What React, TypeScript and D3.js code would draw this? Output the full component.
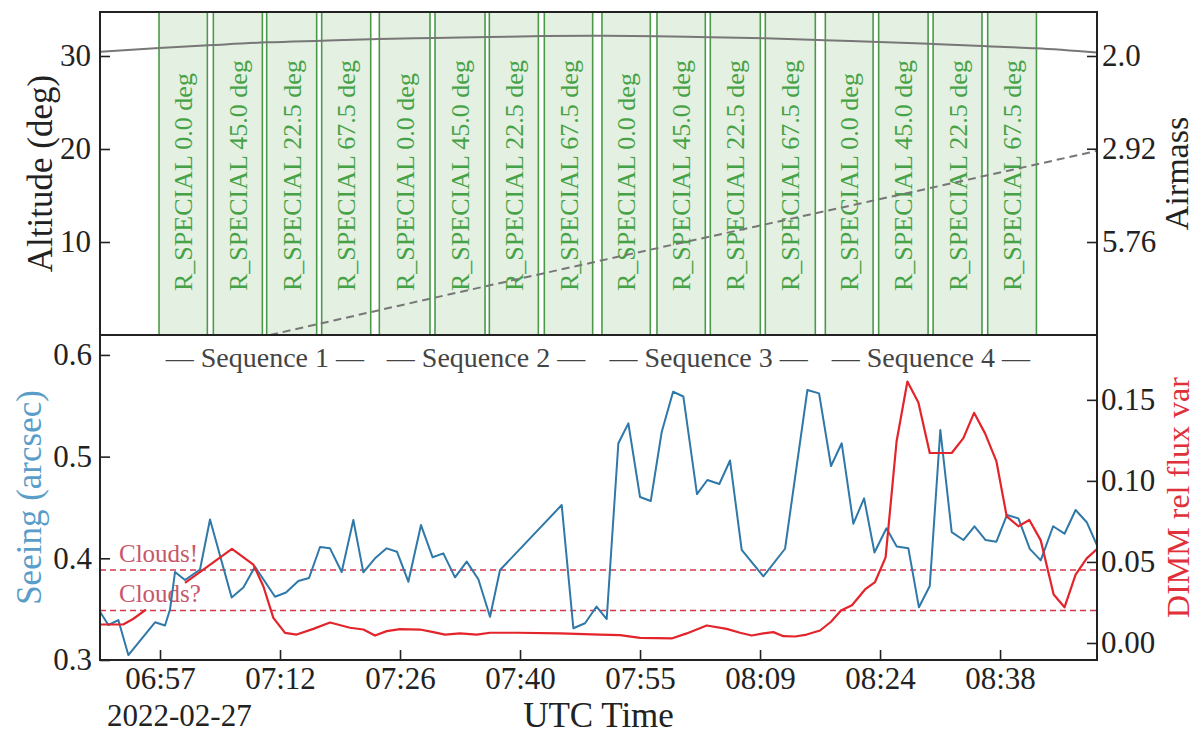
import { useEffect, useRef } from "react";
import * as d3 from "d3";

const DAY = "2022-02-27";
const xStart = "06:50:24";
const xEnd = "08:50:02";

// UTC tick positions (labels are truncated to HH:MM)
const tickTimes = ["06:57:36", "07:12:00", "07:26:24", "07:40:48", "07:55:12", "08:09:36", "08:24:00", "08:38:24"];

// observation blocks
const blockStart = ["06:57:29", "07:04:00", "07:10:24", "07:17:00", "07:23:55", "07:30:36", "07:37:07", "07:43:43",
  "07:50:38", "07:57:14", "08:03:38", "08:10:14", "08:17:26", "08:23:50", "08:30:22", "08:36:55"];
const blockEnd = ["07:03:17", "07:09:53", "07:16:24", "07:22:53", "07:30:00", "07:36:36", "07:43:00", "07:49:31",
  "07:56:26", "08:03:02", "08:09:38", "08:16:14", "08:23:10", "08:29:46", "08:36:14", "08:42:46"];
const blockAngle = ["0.0", "45.0", "22.5", "67.5", "0.0", "45.0", "22.5", "67.5",
  "0.0", "45.0", "22.5", "67.5", "0.0", "45.0", "22.5", "67.5"];
const sequences = ["Sequence 1", "Sequence 2", "Sequence 3", "Sequence 4"];

// target altitude (deg)
const altTime = ["06:50:24", "06:57:29", "07:03:58", "07:10:26", "07:17:02", "07:23:53", "07:30:36", "07:37:05", "07:43:41",
  "07:49:34", "07:57:14", "08:03:36", "08:10:12", "08:17:24", "08:23:53", "08:30:22", "08:36:58", "08:42:43", "08:50:02"];
const altValue = [30.46, 30.86, 31.18, 31.47, 31.65, 31.83, 31.94, 32.04, 32.15,
  32.18, 32.12, 32.01, 31.9, 31.69, 31.51, 31.29, 31.04, 30.83, 30.38];

// second (dashed) altitude track
const dashTime = ["07:10:48", "07:30:00", "07:50:00", "08:10:00", "08:30:00", "08:50:02"];
const dashValue = [0.0, 3.9, 7.9, 11.85, 15.8, 19.8];

const airmassTicks = [2.0, 2.92, 5.76];
const airmassLabels = ["2.0", "2.92", "5.76"];

// DIMM seeing (arcsec)
const seeingTime = ["06:50:24", "06:51:24", "06:52:36", "06:53:48", "06:57:00", "06:58:12", "06:58:48", "06:59:24", "07:00:36",
  "07:02:24", "07:03:36", "07:06:12", "07:07:36", "07:09:00", "07:11:24", "07:12:43", "07:14:12", "07:15:29", "07:16:48",
  "07:18:00", "07:19:24", "07:20:48", "07:22:00", "07:23:24", "07:24:48", "07:26:02", "07:27:24", "07:28:55", "07:30:19",
  "07:31:36", "07:33:00", "07:34:24", "07:35:48", "07:37:12", "07:38:24", "07:45:48", "07:47:12", "07:48:36", "07:49:59",
  "07:51:12", "07:52:36", "07:53:48", "07:55:12", "07:56:29", "07:57:48", "07:59:10", "08:00:24", "08:02:02", "08:03:17",
  "08:04:43", "08:06:00", "08:07:24", "08:10:00", "08:12:36", "08:15:17", "08:16:41", "08:18:07", "08:19:24", "08:20:48",
  "08:22:05", "08:23:20", "08:24:46", "08:26:00", "08:27:24", "08:28:40", "08:29:58", "08:31:14", "08:32:36", "08:34:00",
  "08:35:20", "08:36:40", "08:37:58", "08:39:14", "08:40:36", "08:41:58", "08:43:17", "08:44:46", "08:46:08", "08:47:28",
  "08:48:48", "08:50:06"];
const seeingValue = [0.3475, 0.3344, 0.3393, 0.3049, 0.3371, 0.3339, 0.3496, 0.3865, 0.3787,
  0.389, 0.4382, 0.3615, 0.3713, 0.3917, 0.3622, 0.3664, 0.3777, 0.3806, 0.4111,
  0.4098, 0.3865, 0.4377, 0.3862, 0.4, 0.4098, 0.4065, 0.377, 0.4327, 0.401,
  0.4049, 0.3813, 0.3967, 0.3794, 0.3426, 0.3885, 0.4524, 0.3312, 0.3361, 0.3526,
  0.3403, 0.5131, 0.5327, 0.4603, 0.4563, 0.5242, 0.5638, 0.5591, 0.4632, 0.477,
  0.4731, 0.4962, 0.4082, 0.3823, 0.4094, 0.5655, 0.5622, 0.4908, 0.5131, 0.434,
  0.459, 0.4057, 0.4295, 0.4116, 0.4098, 0.3518, 0.3728, 0.5262, 0.4257, 0.418,
  0.4315, 0.418, 0.4163, 0.4426, 0.4393, 0.4093, 0.398, 0.4315, 0.4242, 0.4475,
  0.4355, 0.4116];

// DIMM relative flux variance (null = no data)
const fluxTime = ["06:50:24", "06:53:10", "06:54:22", "06:55:55", "06:58:00", "07:00:36", "07:06:14", "07:08:48", "07:10:00",
  "07:11:12", "07:12:36", "07:14:00", "07:16:00", "07:18:00", "07:20:24", "07:22:00", "07:23:24", "07:24:48", "07:26:24",
  "07:28:48", "07:30:24", "07:31:48", "07:33:36", "07:35:36", "07:37:12", "07:40:24", "07:45:36", "07:50:24", "07:52:48",
  "07:55:12", "07:59:00", "08:00:48", "08:03:12", "08:05:36", "08:07:12", "08:08:36", "08:10:00", "08:11:12", "08:12:24",
  "08:13:48", "08:15:12", "08:16:48", "08:18:07", "08:19:19", "08:20:38", "08:22:12", "08:23:24", "08:24:40", "08:25:59",
  "08:27:17", "08:28:36", "08:29:58", "08:32:36", "08:34:00", "08:35:17", "08:36:36", "08:37:58", "08:39:12", "08:40:36",
  "08:41:55", "08:43:17", "08:44:50", "08:46:08", "08:47:28", "08:48:48", "08:50:06"];
const fluxValue = [0.0114, 0.0114, 0.0148, 0.0206, null, 0.0371, 0.058, 0.0484, 0.035,
  0.0155, 0.0062, 0.0052, 0.0087, 0.0126, 0.0094, 0.0083, 0.0046, 0.0073, 0.0086,
  0.0083, 0.0067, 0.0052, 0.0059, 0.0052, 0.0063, 0.0063, 0.0059, 0.0052, 0.0048,
  0.0032, 0.0028, 0.0059, 0.0108, 0.0087, 0.0063, 0.0046, 0.0059, 0.0067, 0.0042,
  0.004, 0.0052, 0.0077, 0.0131, 0.0201, 0.0233, 0.033, 0.0376, 0.0528, 0.1243,
  0.1613, 0.1484, 0.1172, 0.1172, 0.1264, 0.142, 0.1293, 0.112, 0.0781, 0.072,
  0.0759, 0.0633, 0.0299, 0.022, 0.0422, 0.0522, 0.0583];

const cloudLevels = [0.045, 0.02];
const cloudLabels = ["Clouds!", "Clouds?"];

const parseT = d3.utcParse("%Y-%m-%d %H:%M:%S");
const t = (s: string) => parseT(`${DAY} ${s}`) as Date;

const FONT = "'Liberation Serif', 'Times New Roman', serif";

export default function App() {
  const ref = useRef<SVGSVGElement>(null);

  useEffect(() => {
    const svg = d3.select(ref.current);
    svg.selectAll("*").remove();

    const left = 100, right = 1097, top = 12, mid = 335, bottom = 660;

    const x = d3.scaleUtc().domain([t(xStart), t(xEnd)]).range([left, right]);
    const alt = d3.scaleLinear().domain([0, 34.73]).range([mid, top]);
    const see = d3.scaleLinear().domain([0.3, 0.6196]).range([bottom, mid]);
    const flux = d3.scaleLinear().domain([-0.0105, 0.19]).range([bottom, mid]);

    const defs = svg.append("defs");
    defs.append("clipPath").attr("id", "clipTop").append("rect")
      .attr("x", left).attr("y", top).attr("width", right - left).attr("height", mid - top);
    defs.append("clipPath").attr("id", "clipBot").append("rect")
      .attr("x", left).attr("y", mid).attr("width", right - left).attr("height", bottom - mid);

    // ---- top panel ----
    const gTop = svg.append("g").attr("clip-path", "url(#clipTop)");
    const blocks = blockStart.map((s, i) => ({
      x0: x(t(s)),
      x1: x(t(blockEnd[i])),
      label: `R_SPECIAL ${blockAngle[i]} deg`,
    }));

    gTop.selectAll("rect.block").data(blocks).join("rect")
      .attr("class", "block")
      .attr("x", (d) => d.x0).attr("y", top - 2)
      .attr("width", (d) => d.x1 - d.x0).attr("height", mid - top + 4)
      .attr("fill", "#e4f0e1").attr("stroke", "#4a9a4a").attr("stroke-width", 1.6);

    gTop.selectAll("text.block").data(blocks).join("text")
      .attr("class", "block")
      .attr("transform", (d) => `translate(${(d.x0 + d.x1) / 2},291) rotate(-90)`)
      .attr("dy", "0.35em")
      .attr("fill", "#46a246")
      .style("font-size", "26px")
      .text((d) => d.label);

    const altLine = d3.line<[Date, number]>()
      .x((d) => x(d[0])).y((d) => alt(d[1]))
      .curve(d3.curveMonotoneX);

    gTop.append("path")
      .datum(altTime.map((s, i) => [t(s), altValue[i]] as [Date, number]))
      .attr("d", altLine)
      .attr("fill", "none").attr("stroke", "#777").attr("stroke-width", 2);

    gTop.append("path")
      .datum(dashTime.map((s, i) => [t(s), dashValue[i]] as [Date, number]))
      .attr("d", altLine)
      .attr("fill", "none").attr("stroke", "#777").attr("stroke-width", 2)
      .attr("stroke-dasharray", "8,5");

    // ---- bottom panel ----
    const gBot = svg.append("g").attr("clip-path", "url(#clipBot)");

    gBot.selectAll("line.cloud").data(cloudLevels).join("line")
      .attr("class", "cloud")
      .attr("x1", left).attr("x2", right)
      .attr("y1", (d) => flux(d)).attr("y2", (d) => flux(d))
      .attr("stroke", "#d23a4c").attr("stroke-width", 1.5).attr("stroke-dasharray", "6,4");

    gBot.selectAll("text.cloud").data(cloudLevels).join("text")
      .attr("class", "cloud")
      .attr("x", 119).attr("y", (d) => flux(d) - 8.5)
      .attr("fill", "#c9566a").style("font-size", "25px")
      .text((_, i) => cloudLabels[i]);

    const seeLine = d3.line<[Date, number]>().x((d) => x(d[0])).y((d) => see(d[1]));
    gBot.append("path")
      .datum(seeingTime.map((s, i) => [t(s), seeingValue[i]] as [Date, number]))
      .attr("d", seeLine)
      .attr("fill", "none").attr("stroke", "#2f78a8").attr("stroke-width", 2)
      .attr("stroke-linejoin", "round");

    const fluxLine = d3.line<[Date, number | null]>()
      .defined((d) => d[1] != null)
      .x((d) => x(d[0])).y((d) => flux(d[1] as number));
    gBot.append("path")
      .datum(fluxTime.map((s, i) => [t(s), fluxValue[i]] as [Date, number | null]))
      .attr("d", fluxLine)
      .attr("fill", "none").attr("stroke", "#e3242b").attr("stroke-width", 2.2)
      .attr("stroke-linejoin", "round");

    // sequence labels, centred on their four blocks
    gBot.selectAll("text.seq").data(sequences).join("text")
      .attr("class", "seq")
      .attr("x", (_, i) => (blocks[i * 4].x0 + blocks[i * 4 + 3].x1) / 2)
      .attr("y", 367)
      .attr("text-anchor", "middle")
      .attr("fill", "#444").style("font-size", "28px")
      .text((d) => `\u2014 ${d} \u2014`);

    // ---- frames ----
    [[top, mid], [mid, bottom]].forEach(([y0, y1]) => {
      svg.append("rect")
        .attr("x", left).attr("y", y0).attr("width", right - left).attr("height", y1 - y0)
        .attr("fill", "none").attr("stroke", "#222").attr("stroke-width", 2);
    });

    // ---- axes ----
    const styleAxis = (g: d3.Selection<SVGGElement, unknown, null, undefined>) => {
      g.select(".domain").remove();
      g.attr("font-family", FONT).attr("font-size", 31);
      g.selectAll("line").attr("stroke", "#222").attr("stroke-width", 1.6);
      g.selectAll("text").attr("fill", "#222");
    };

    svg.append("g").attr("transform", `translate(${left},0)`)
      .call(d3.axisLeft(alt).tickValues([10, 20, 30]).tickSize(-10).tickPadding(9))
      .call(styleAxis);

    svg.append("g").attr("transform", `translate(${right},0)`)
      .call(d3.axisRight(alt)
        .tickValues(airmassTicks.map((a) => (Math.asin(1 / a) * 180) / Math.PI))
        .tickFormat((_, i) => airmassLabels[i])
        .tickSize(-10).tickPadding(5))
      .call(styleAxis);

    svg.append("g").attr("transform", `translate(${left},0)`)
      .call(d3.axisLeft(see).tickValues([0.3, 0.4, 0.5, 0.6]).tickFormat(d3.format(".1f")).tickSize(-10).tickPadding(8))
      .call(styleAxis);

    svg.append("g").attr("transform", `translate(${right},0)`)
      .call(d3.axisRight(flux).tickValues([0, 0.05, 0.1, 0.15]).tickFormat(d3.format(".2f")).tickSize(-10).tickPadding(4))
      .call(styleAxis);

    svg.append("g").attr("transform", `translate(0,${bottom})`)
      .call(d3.axisBottom(x).tickValues(tickTimes.map(t)).tickFormat(d3.utcFormat("%H:%M") as any).tickSize(-10).tickPadding(7))
      .call(styleAxis);

    // ---- labels ----
    const label = (txt: string, cx: number, cy: number, color: string, size: number) =>
      svg.append("text")
        .attr("transform", `translate(${cx},${cy}) rotate(-90)`)
        .attr("text-anchor", "middle").attr("dy", "0.33em")
        .attr("fill", color).style("font-size", `${size}px`)
        .text(txt);

    label("Altitude (deg)", 40, (top + mid) / 2, "#222", 35);
    label("Airmass", 1177, (top + mid) / 2, "#222", 34);
    label("Seeing (arcsec)", 29, (mid + bottom) / 2, "#5a9dc8", 35);
    label("DIMM rel flux var", 1178, (mid + bottom) / 2, "#e0303a", 32);

    svg.append("text").attr("x", (left + right) / 2).attr("y", 727)
      .attr("text-anchor", "middle").attr("fill", "#222").style("font-size", "35px")
      .text("UTC Time");

    svg.append("text").attr("x", 107).attr("y", 726)
      .attr("fill", "#222").style("font-size", "31px")
      .text(DAY);
  }, []);

  return (
    <svg
      ref={ref}
      width={1198}
      height={736}
      style={{ position: "absolute", left: 0, top: 0, background: "#fff", fontFamily: FONT }}
    />
  );
}
